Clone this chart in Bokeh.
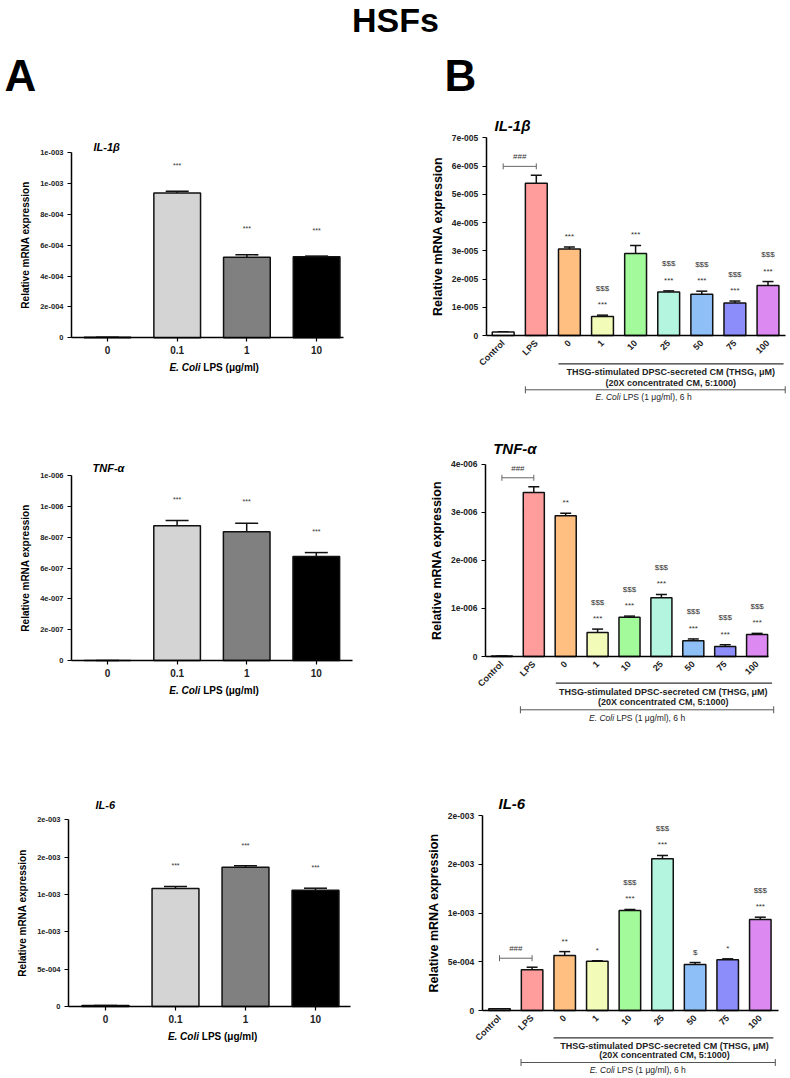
import math
from bokeh.plotting import figure
from bokeh.models import (Range1d, FixedTicker, Label, Whisker, Arrow, TeeHead,
                          ColumnDataSource, CustomJSTickFormatter)
from bokeh.layouts import column, row
from bokeh.core.properties import value
from bokeh.embed import file_html
from bokeh.resources import INLINE

FONT = "Liberation Sans"
TXT = "#222222"

# ---------------- Panel A data (HSFs, E. coli LPS dose) ----------------
A_doses = ["0", "0.1", "1", "10"]
A_colors = ["#ffffff", "#d4d4d4", "#808080", "#000000"]

A_il1b = [4e-6, 9.40e-4, 5.23e-4, 5.25e-4]
A_il1b_err = [0.0, 1.1e-5, 1.5e-5, 5e-6]
A_il1b_sig = ["", "***", "***", "***"]
A_il1b_ticks = [0, 2e-4, 4e-4, 6e-4, 8e-4, 1e-3, 1.2e-3]
A_il1b_ticklabels = ["0", "2e-004", "4e-004", "6e-004", "8e-004", "1e-003", "1e-003"]

A_tnf = [0.0, 8.74e-7, 8.35e-7, 6.75e-7]
A_tnf_err = [0.0, 3.4e-8, 5.5e-8, 2.5e-8]
A_tnf_sig = ["", "***", "***", "***"]
A_tnf_ticks = [0, 2e-7, 4e-7, 6e-7, 8e-7, 1e-6, 1.2e-6]
A_tnf_ticklabels = ["0", "2e-007", "4e-007", "6e-007", "8e-007", "1e-006", "1e-006"]

A_il6 = [1.5e-5, 1.58e-3, 1.865e-3, 1.557e-3]
A_il6_err = [0.0, 2.7e-5, 1.9e-5, 2.7e-5]
A_il6_sig = ["", "***", "***", "***"]
A_il6_ticks = [0, 5e-4, 1e-3, 1.5e-3, 2e-3, 2.5e-3]
A_il6_ticklabels = ["0", "5e-004", "1e-003", "1e-003", "2e-003", "2e-003"]

# ---------------- Panel B data (THSG-stimulated DPSC CM) ----------------
B_groups = ["Control", "LPS", "0", "1", "10", "25", "50", "75", "100"]
B_colors = ["#ffffff", "#ff9c9c", "#ffbf80", "#f2fcb8", "#a3fa9a",
            "#b3f5df", "#8fbff7", "#8c8cfa", "#dc8af2"]

B_il1b = [1.2e-6, 5.39e-5, 3.06e-5, 0.67e-5, 2.90e-5, 1.54e-5, 1.46e-5, 1.15e-5, 1.77e-5]
B_il1b_err = [1e-7, 2.8e-6, 0.7e-6, 0.5e-6, 2.9e-6, 0.4e-6, 1.1e-6, 0.7e-6, 1.4e-6]
B_il1b_star = ["", "", "***", "***", "***", "***", "***", "***", "***"]
B_il1b_dollar = ["", "", "", "$$$", "", "$$$", "$$$", "$$$", "$$$"]
B_il1b_ticks = [0, 1e-5, 2e-5, 3e-5, 4e-5, 5e-5, 6e-5, 7e-5]
B_il1b_ticklabels = ["0", "1e-005", "2e-005", "3e-005", "4e-005", "5e-005", "6e-005", "7e-005"]

B_tnf = [1e-8, 3.41e-6, 2.93e-6, 0.50e-6, 0.815e-6, 1.22e-6, 0.33e-6, 0.21e-6, 0.456e-6]
B_tnf_err = [0.0, 1.2e-7, 0.5e-7, 0.7e-7, 0.25e-7, 0.7e-7, 0.35e-7, 0.35e-7, 0.25e-7]
B_tnf_star = ["", "", "**", "***", "***", "***", "***", "***", "***"]
B_tnf_dollar = ["", "", "", "$$$", "$$$", "$$$", "$$$", "$$$", "$$$"]
B_tnf_ticks = [0, 1e-6, 2e-6, 3e-6, 4e-6]
B_tnf_ticklabels = ["0", "1e-006", "2e-006", "3e-006", "4e-006"]

B_il6 = [1.7e-5, 4.17e-4, 5.64e-4, 5.06e-4, 1.026e-3, 1.556e-3, 4.72e-4, 5.2e-4, 9.33e-4]
B_il6_err = [2e-6, 2.7e-5, 4e-5, 4e-6, 1e-5, 3.4e-5, 2e-5, 1e-5, 2.4e-5]
B_il6_star = ["", "", "**", "*", "***", "***", "$", "*", "***"]
B_il6_dollar = ["", "", "", "", "$$$", "$$$", "", "", "$$$"]
B_il6_ticks = [0, 5e-4, 1e-3, 1.5e-3, 2e-3]
B_il6_ticklabels = ["0", "5e-004", "1e-003", "2e-003", "2e-003"]

Y_TITLE = "Relative mRNA expression"
B_LINE1 = "THSG-stimulated DPSC-secreted CM (THSG, \u03bcM)"
B_LINE2 = "(20X concentrated CM, 5:1000)"

NEAREST = """
let best = 0;
for (let k = 1; k < tvals.length; k++) {
  if (Math.abs(tvals[k] - tick) < Math.abs(tvals[best] - tick)) best = k;
}
return tlabels[best];
"""


class Geo:
    """pixel <-> data helpers for one panel (frame == whole figure)."""
    def __init__(self, w, h, ax, c0, s, end, z, t, vmax):
        self.w, self.h, self.ax, self.c0, self.s, self.end = w, h, ax, c0, s, end
        self.z, self.t, self.vmax = z, t, vmax
        self.ypp = vmax / (z - t)

    def X(self, px):
        return (px - self.c0) / self.s

    def Y(self, py):
        return (self.z - py) * self.ypp

    def dx(self, px):
        return px / self.s

    def dy(self, py):
        return py * self.ypp


def base_fig(g):
    p = figure(width=g.w, height=g.h, x_range=Range1d(g.X(0), g.X(g.w)),
               y_range=Range1d(g.Y(g.h), g.Y(0)),
               output_backend="svg", toolbar_location=None, title=None, min_border=0)
    p.grid.visible = False
    p.outline_line_color = None
    p.background_fill_color = "white"
    p.border_fill_color = "white"
    return p


def style_axes(p, g, yticks, ylabels, xlabels, ytick_fs, xtick_fs, ylab_fs, ylab_stand,
               rotate, xtick_out, xstand):
    yax = p.yaxis[0]
    yax.fixed_location = g.X(g.ax)
    yax.bounds = (0, g.vmax)
    yax.ticker = FixedTicker(ticks=yticks)
    yax.formatter = CustomJSTickFormatter(args=dict(tvals=yticks, tlabels=ylabels), code=NEAREST)
    yax.minor_tick_line_color = None
    yax.major_tick_in = 0
    yax.major_tick_out = 4
    yax.axis_line_width = 1.5
    yax.major_tick_line_width = 1.2
    yax.major_label_text_font = FONT
    yax.major_label_text_font_size = ytick_fs
    yax.major_label_text_font_style = "bold"
    yax.major_label_text_color = TXT
    yax.major_label_standoff = 4
    yax.axis_label = Y_TITLE
    yax.axis_label_text_font = FONT
    yax.axis_label_text_font_size = ylab_fs
    yax.axis_label_text_font_style = "bold"
    yax.axis_label_text_color = "#000000"
    yax.axis_label_standoff = ylab_stand

    xax = p.xaxis[0]
    xax.fixed_location = 0
    xax.bounds = (g.X(g.ax), g.X(g.end))
    xax.ticker = FixedTicker(ticks=list(range(len(xlabels))))
    xax.formatter = CustomJSTickFormatter(args=dict(tlabels=xlabels),
                                          code="return tlabels[Math.round(tick)];")
    xax.minor_tick_line_color = None
    xax.major_tick_in = 0
    xax.major_tick_out = xtick_out
    xax.axis_line_width = 1.5
    xax.major_tick_line_width = 1.2
    xax.major_label_text_font = FONT
    xax.major_label_text_font_size = xtick_fs
    xax.major_label_text_font_style = "bold"
    xax.major_label_text_color = TXT
    xax.major_label_standoff = xstand
    if rotate:
        xax.major_label_orientation = math.pi / 4


def add_bars(p, g, labels, vals, errs, colors, bar_w, cap, lo, hi, lo_px, hi_px, fs):
    xs = list(range(len(labels)))
    upper = [v + e for v, e in zip(vals, errs)]
    if hi is None:
        hi = [""] * len(labels)
    src = ColumnDataSource(dict(
        x=xs, top=vals, upper=upper, color=colors, lo=lo, hi=hi,
        ylo=[u + g.dy(lo_px) for u in upper],
        yhi=[u + g.dy(hi_px) for u in upper]))
    p.vbar(x="x", top="top", width=bar_w, fill_color="color", line_color="#111111",
           line_width=1.5, source=src)
    p.add_layout(Whisker(base="x", lower="top", upper="upper", source=src,
                         lower_head=None,
                         upper_head=TeeHead(size=cap, line_width=1.5, line_color="#111111"),
                         line_width=1.5, line_color="#111111"))
    for col, ycol in (("lo", "ylo"), ("hi", "yhi")):
        p.text(x="x", y=ycol, text=col, source=src, text_align="center",
               text_baseline="alphabetic", text_font=value(FONT), text_font_size=fs,
               text_color="#333333")


def label(p, x, y, text, size, style="bold", align="center", color="#000000"):
    p.add_layout(Label(x=x, y=y, text=text, text_font=FONT, text_font_size=size,
                       text_font_style=style, text_align=align, text_baseline="middle",
                       text_color=color))


def panel_A(g, vals, errs, sig, yticks, ylabels, title, tdx, tdy, sig_px):
    p = base_fig(g)
    style_axes(p, g, yticks, ylabels, A_doses, "7.5px", "10px", "10px", 6, False, 4, 4)
    add_bars(p, g, A_doses, vals, errs, A_colors, 0.67, 23, sig, None, sig_px, 0, "7px")
    label(p, g.X(g.ax + tdx), g.vmax + g.dy(tdy), title, "11px", "bold italic", "left")
    center = 1.53
    label(p, center - g.dx(13.6), -g.dy(30), "E. Coli", "10px", "bold italic", "right")
    label(p, center - g.dx(10.8), -g.dy(30), "LPS (\u03bcg/ml)", "10px", "bold", "left")
    return p


def panel_B(g, vals, errs, star, dollar, yticks, ylabels, title, tdx, tdy, offs,
            line_x, brk_x):
    p = base_fig(g)
    style_axes(p, g, yticks, ylabels, B_groups, "8.5px", "9px", "12.5px", 4, True, 0, 6)
    add_bars(p, g, B_groups, vals, errs, B_colors, 0.66, 11, star, dollar, 10.5, 27, "8px")
    label(p, g.X(g.ax + tdx), g.vmax + g.dy(tdy), title, "15px", "bold italic", "left")
    # ### bracket between Control and LPS
    lps_top = vals[1] + errs[1]
    yb = lps_top + g.dy(9)
    p.add_layout(Arrow(x_start=0, y_start=yb, x_end=1, y_end=yb,
                       start=TeeHead(size=6, line_color="#666666", line_width=1),
                       end=TeeHead(size=6, line_color="#666666", line_width=1),
                       line_color="#666666", line_width=1))
    p.text(x=[0.5], y=[lps_top + g.dy(18.7)], text=["###"], text_align="center",
           text_baseline="alphabetic", text_font=value(FONT), text_font_size="8px",
           text_color="#333333")
    o_line, o_t1, o_t2, o_brk, o_ec = offs
    p.add_layout(Arrow(x_start=line_x[0], y_start=-g.dy(o_line), x_end=line_x[1],
                       y_end=-g.dy(o_line), start=None, end=None,
                       line_color="#333333", line_width=1.2))
    label(p, 5.06, -g.dy(o_t1), B_LINE1, "9px", "bold", "center", TXT)
    label(p, 5.06, -g.dy(o_t2), B_LINE2, "9px", "bold", "center", TXT)
    p.add_layout(Arrow(x_start=brk_x[0], y_start=-g.dy(o_brk), x_end=brk_x[1],
                       y_end=-g.dy(o_brk),
                       start=TeeHead(size=7, line_color="#555555", line_width=1),
                       end=TeeHead(size=7, line_color="#555555", line_width=1),
                       line_color="#555555", line_width=1))
    ec = 4.3
    label(p, ec - g.dx(25), -g.dy(o_ec), "E. Coli", "8.5px", "italic", "right", TXT)
    label(p, ec - g.dx(22.6), -g.dy(o_ec), "LPS (1 \u03bcg/ml), 6 h", "8.5px", "normal",
          "left", TXT)
    return p


# ---------------- header ----------------
hdr = figure(width=790, height=100, x_range=Range1d(0, 790), y_range=Range1d(0, 100),
             output_backend="svg", toolbar_location=None, title=None,
             x_axis_location=None, y_axis_location=None, min_border=0)
hdr.grid.visible = False
hdr.outline_line_color = None
hdr.add_layout(Label(x=395, y=81, text="HSFs", text_font=FONT, text_font_size="34px",
                     text_font_style="bold", text_align="center", text_baseline="middle",
                     text_color="#000000"))
hdr.add_layout(Label(x=4, y=25, text="A", text_font=FONT, text_font_size="44px",
                     text_font_style="bold", text_align="left", text_baseline="middle",
                     text_color="#000000"))
hdr.add_layout(Label(x=444, y=25, text="B", text_font=FONT, text_font_size="44px",
                     text_font_style="bold", text_align="left", text_baseline="middle",
                     text_color="#000000"))

# ---------------- panels (pixel geometry relative to each figure) ----------------
gL1 = Geo(420, 320, 71, 107, 69.7, 343, 237.3, 52.3, 1.2e-3)
gL2 = Geo(420, 320, 71, 107, 69.6, 351.7, 240, 55, 1.2e-6)
gL3 = Geo(420, 336, 68, 105, 70, 350, 266, 79.3, 2.5e-3)
gR1 = Geo(370, 320, 65.7, 82.7, 33.1, 365, 235, 37.3, 7e-5)
gR2 = Geo(370, 320, 65, 81.4, 31.9, 348.3, 236, 43.7, 4e-6)
gR3 = Geo(370, 336, 61.7, 79, 32.6, 358, 270, 75, 2e-3)

L1 = panel_A(gL1, A_il1b, A_il1b_err, A_il1b_sig, A_il1b_ticks, A_il1b_ticklabels,
             "IL-1\u03b2", 22, 6, 26)
L2 = panel_A(gL2, A_tnf, A_tnf_err, A_tnf_sig, A_tnf_ticks, A_tnf_ticklabels,
             "TNF-\u03b1", 21, 7.3, 21.5)
L3 = panel_A(gL3, A_il6, A_il6_err, A_il6_sig, A_il6_ticks, A_il6_ticklabels,
             "IL-6", 27, 15, 20.5)

R1 = panel_B(gR1, B_il1b, B_il1b_err, B_il1b_star, B_il1b_dollar, B_il1b_ticks,
             B_il1b_ticklabels, "IL-1\u03b2", 8.3, 12.3, (28.3, 36.7, 47, 54.3, 61.7),
             (1.67, 8.47), (0.67, 8.52))
R2 = panel_B(gR2, B_tnf, B_tnf_err, B_tnf_star, B_tnf_dollar, B_tnf_ticks,
             B_tnf_ticklabels, "TNF-\u03b1", 7.7, 15.4, (26.7, 35, 45, 53.3, 61.3),
             (1.69, 8.47), (0.58, 8.52))
R3 = panel_B(gR3, B_il6, B_il6_err, B_il6_star, B_il6_dollar, B_il6_ticks,
             B_il6_ticklabels, "IL-6", 16.3, 12.3, (27.3, 35.7, 44, 52, 59.5),
             (1.66, 8.4), (0.66, 8.46))

layout = column(hdr, row(L1, R1), row(L2, R2), row(L3, R3))

open("out.html", "w").write(file_html(layout, INLINE))
